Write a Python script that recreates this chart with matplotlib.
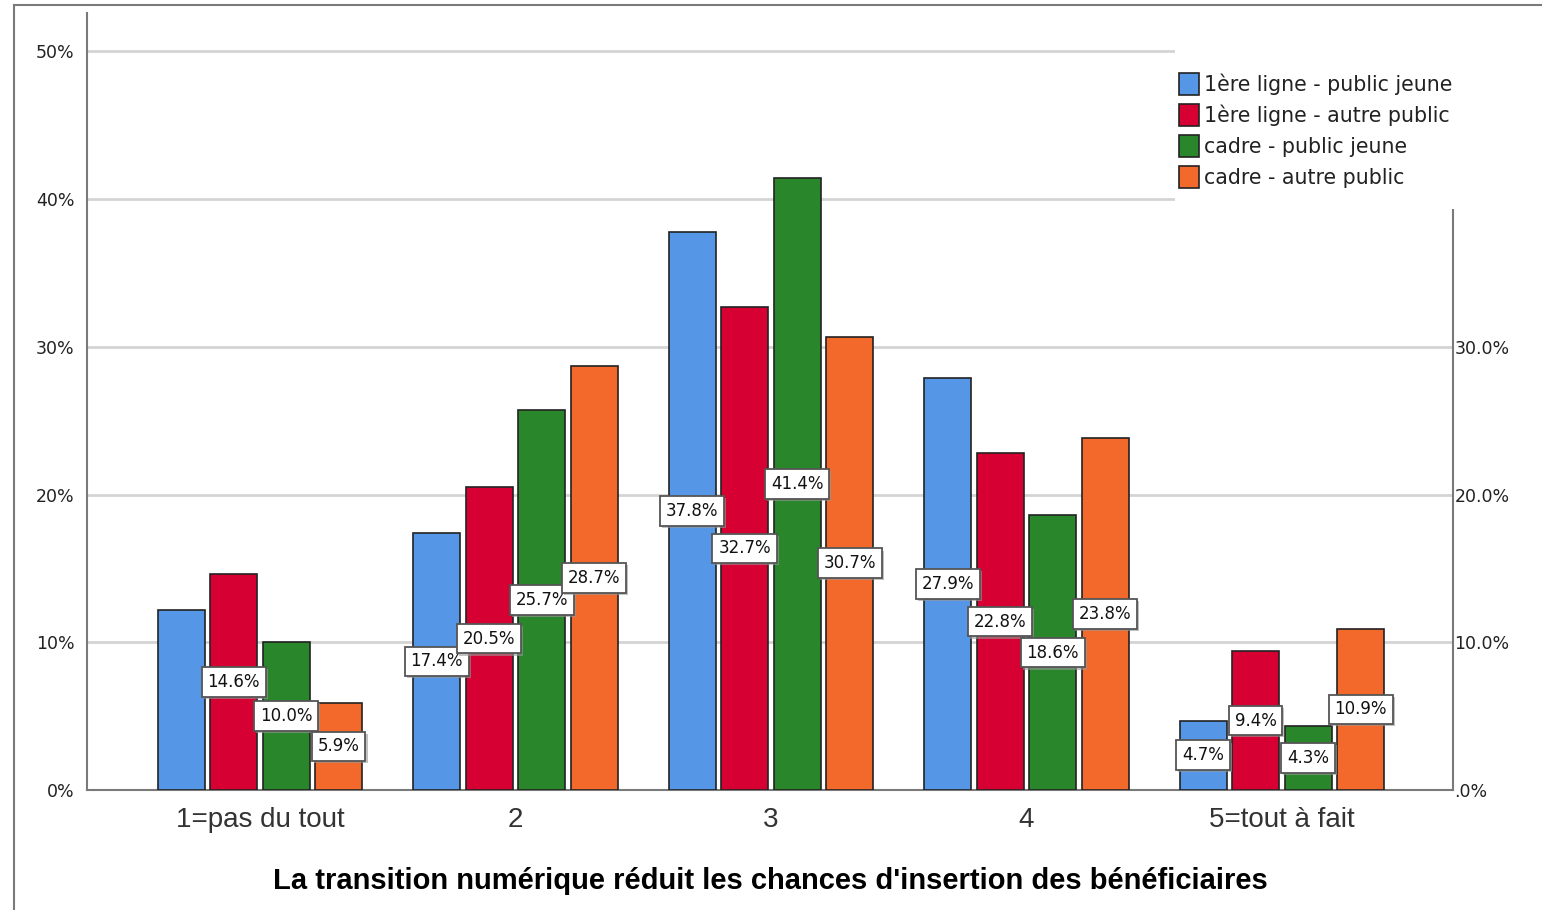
import matplotlib
matplotlib.use("Agg")
import matplotlib.pyplot as plt
import matplotlib.patheffects as pe
from matplotlib.lines import Line2D
from matplotlib.patches import Rectangle, Patch
import numpy as np

categories = ["1=pas du tout", "2", "3", "4", "5=tout à fait"]
series_names = [
    "1ère ligne - public jeune",
    "1ère ligne - autre public",
    "cadre - public jeune",
    "cadre - autre public",
]
jeune_1l = [12.2, 17.4, 37.8, 27.9, 4.7]
autre_1l = [14.6, 20.5, 32.7, 22.8, 9.4]
jeune_cadre = [10.0, 25.7, 41.4, 18.6, 4.3]
autre_cadre = [5.9, 28.7, 30.7, 23.8, 10.9]
# first bar of category 1 has no visible label in the original
show_label = [
    [False, True, True, True, True],
    [True] * 5,
    [True] * 5,
    [True] * 5,
]
colors = ["#5596E6", "#D60032", "#2A862A", "#F2692B"]
left_ticks = [0, 10, 20, 30, 40, 50]
left_ticklabels = ["0%", "10%", "20%", "30%", "40%", "50%"]
right_ticks = [0, 10, 20, 30, 40]
right_ticklabels = [".0%", "10.0%", "20.0%", "30.0%", "40.0%"]
xlabel = "La transition numérique réduit les chances d'insertion des bénéficiaires"

series = [jeune_1l, autre_1l, jeune_cadre, autre_cadre]

fig = plt.figure(figsize=(15.42, 9.10), dpi=100)
ax = fig.add_axes([87 / 1542, 1 - 790 / 910, (1453 - 87) / 1542, (790 - 13) / 910])

x = np.arange(len(categories))
width = 0.184
pitch = 0.2055
for i, (vals, col) in enumerate(zip(series, colors)):
    pos = x + (i - 1.5) * pitch
    ax.bar(pos, vals, width=width, color=col, edgecolor="#222222", linewidth=1.2, zorder=3)
    for p, v, show in zip(pos, vals, show_label[i]):
        if not show:
            continue
        t = ax.text(p, v / 2, f"{v:.1f}%", ha="center", va="center", fontsize=12,
                    family="DejaVu Sans", color="#111111", zorder=5,
                    bbox=dict(boxstyle="square,pad=0.35", facecolor="white",
                              edgecolor="#555555", linewidth=1.3))
        t.get_bbox_patch().set_path_effects(
            [pe.SimplePatchShadow(offset=(1.5, -1.5), shadow_rgbFace="#999999", alpha=0.6),
             pe.Normal()])

ax.set_xlim(-0.677, 4.67)
ax.set_ylim(0, 52.6)
ax.set_yticks(left_ticks)
ax.set_yticklabels(left_ticklabels, fontsize=12.5, color="#222222", family="DejaVu Sans")
ax.set_xticks(x)
ax.set_xticklabels(categories, fontsize=20, color="#333333", family="Liberation Sans")
ax.tick_params(axis="both", length=0)
ax.tick_params(axis="y", pad=9)
ax.tick_params(axis="x", pad=12)
ax.set_xlabel(xlabel, fontsize=21, fontweight="bold", family="Liberation Sans", labelpad=25)
ax.grid(axis="y", color="#d4d4d4", linewidth=2, zorder=0)
ax.set_axisbelow(True)
for lab in ax.get_yticklabels():
    lab.set_verticalalignment("center_baseline")

for side in ["left", "bottom", "right"]:
    ax.spines[side].set_color("#7a7a7a")
    ax.spines[side].set_linewidth(1.5)
ax.spines["top"].set_visible(False)

ax2 = ax.twinx()
ax2.set_ylim(ax.get_ylim())
ax2.set_yticks(right_ticks)
ax2.set_yticklabels(right_ticklabels, fontsize=12.5, color="#222222", family="DejaVu Sans")
ax2.tick_params(axis="y", length=0, pad=1)
for side in ax2.spines:
    ax2.spines[side].set_visible(False)
for lab in ax2.get_yticklabels():
    lab.set_verticalalignment("center_baseline")

# outer frame lines
fig.add_artist(Line2D([14 / 1542, 14 / 1542], [0, 1 - 5 / 910], color="#7a7a7a", linewidth=1.5))
fig.add_artist(Line2D([14 / 1542, 1], [1 - 5 / 910, 1 - 5 / 910], color="#7a7a7a", linewidth=1.5))

# legend area covers grid and right axis top
cover = Rectangle((1175 / 1542, 1 - 209 / 910), (1542 - 1175) / 1542, (209 - 8) / 910,
                  transform=fig.transFigure, facecolor="white", edgecolor="none", zorder=10)
fig.add_artist(cover)

handles = [Patch(facecolor=c, edgecolor="#222222", linewidth=1.2) for c in colors]
leg = fig.legend(handles, series_names, loc="upper left",
                 bbox_to_anchor=(1169 / 1542, 1 - 63 / 910), frameon=False,
                 prop={"family": "DejaVu Sans", "size": 14.8}, handlelength=0.95,
                 handleheight=1.25, handletextpad=0.25, labelspacing=0.45, borderpad=0)
leg.set_zorder(11)
for t in leg.get_texts():
    t.set_color("#222222")

fig.savefig("out.png", dpi=100, facecolor="white")
